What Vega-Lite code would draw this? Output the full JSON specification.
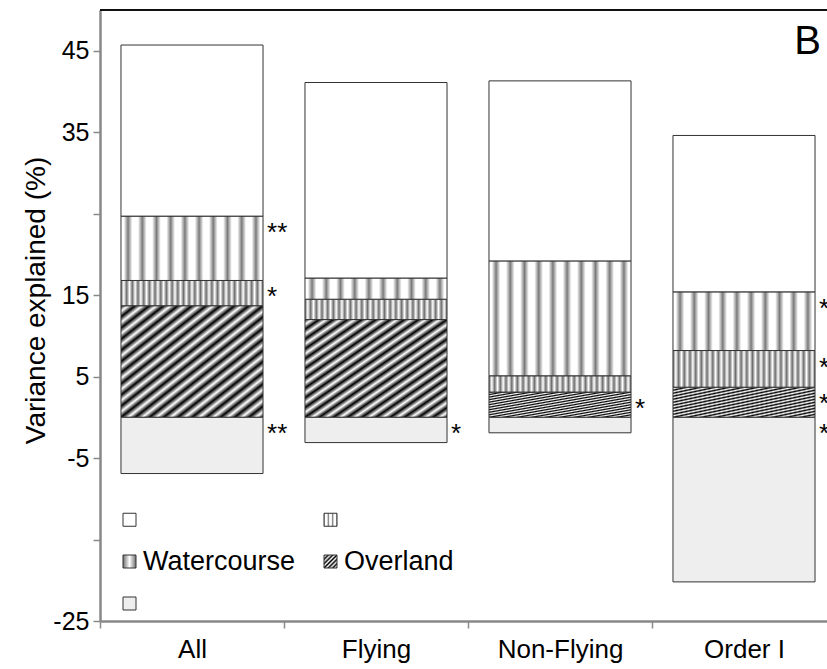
{
  "$schema": "https://vega.github.io/schema/vega-lite/v6.json",
  "width": 727,
  "height": 611,
  "autosize": {"type": "none"},
  "padding": {"left": 100, "top": 10, "right": 0, "bottom": 48},
  "background": "white",
  "config": {"font": "Liberation Sans", "view": {"stroke": null}},
  "title": {"text": "B", "anchor": "end", "frame": "group", "orient": "top", "offset": 0, "baseline": "alphabetic", "fontSize": 40, "fontWeight": "normal", "color": "black", "dx": -6, "dy": 85},
  "data": {
    "values": [
      {"group": "All", "component": "Overland", "value": 13.7, "sig": ""},
      {"group": "All", "component": "Watercourse", "value": 3.1, "sig": "*"},
      {"group": "All", "component": "Dashed", "value": 7.9, "sig": "**"},
      {"group": "All", "component": "Blank", "value": 21.0, "sig": ""},
      {"group": "All", "component": "Dotted", "value": -6.9, "sig": "**"},
      {"group": "Flying", "component": "Overland", "value": 12.0, "sig": ""},
      {"group": "Flying", "component": "Watercourse", "value": 2.5, "sig": ""},
      {"group": "Flying", "component": "Dashed", "value": 2.6, "sig": ""},
      {"group": "Flying", "component": "Blank", "value": 24.0, "sig": ""},
      {"group": "Flying", "component": "Dotted", "value": -3.1, "sig": "*"},
      {"group": "Non-Flying", "component": "Overland", "value": 3.1, "sig": "*"},
      {"group": "Non-Flying", "component": "Watercourse", "value": 2.0, "sig": ""},
      {"group": "Non-Flying", "component": "Dashed", "value": 14.1, "sig": ""},
      {"group": "Non-Flying", "component": "Blank", "value": 22.1, "sig": ""},
      {"group": "Non-Flying", "component": "Dotted", "value": -1.9, "sig": ""},
      {"group": "Order I", "component": "Overland", "value": 3.7, "sig": "*"},
      {"group": "Order I", "component": "Watercourse", "value": 4.5, "sig": "*"},
      {"group": "Order I", "component": "Dashed", "value": 7.2, "sig": "*"},
      {"group": "Order I", "component": "Blank", "value": 19.2, "sig": ""},
      {"group": "Order I", "component": "Dotted", "value": -20.2, "sig": "*"}
    ]
  },
  "transform": [
    {"stack": "value", "groupby": ["group"], "as": ["y0", "y1"]}
  ],
  "layer": [
    {
      "mark": {"type": "bar", "width": {"band": 0.772}, "stroke": "#333333", "strokeWidth": 1},
      "encoding": {
        "x": {
          "field": "group", "type": "nominal", "sort": ["All", "Flying", "Non-Flying", "Order I"],
          "scale": {"range": [0, 736], "paddingInner": 0, "paddingOuter": 0},
          "axis": {"title": null, "labelAngle": 0, "labelFontSize": 26, "labelColor": "black", "labelPadding": 8, "tickSize": 7, "tickColor": "#888888", "tickWidth": 1.5, "domainColor": "#888888", "domainWidth": 2.5, "tickBand": "extent", "grid": false}
        },
        "y": {
          "field": "y1", "type": "quantitative",
          "scale": {"domain": [-25, 50], "nice": false, "zero": false},
          "axis": {"title": "Variance explained (%)", "titleFontSize": 28, "titleFontWeight": "normal", "titleColor": "black", "titleX": -50, "titleY": 290, "titleBaseline": "bottom", "values": [45, 35, 25, 15, 5, -5, -15, -25], "labelExpr": "datum.value == 25 || datum.value == -15 ? '' : replace(datum.label, '\u2212', '-')", "labelFontSize": 25, "labelColor": "black", "labelPadding": 4, "tickSize": 7, "tickColor": "#888888", "tickWidth": 1.5, "domainColor": "#888888", "domainWidth": 2.5, "grid": false}
        },
        "y2": {"field": "y0"},
        "color": {
          "field": "component", "type": "nominal",
          "scale": {
            "domain": ["Blank", "Dashed", "Watercourse", "Overland", "Dotted"],
            "range": [
              "#ffffff",
              {"expr": "{gradient:'linear',x1:0,y1:0,x2:1,y2:0,stops:[{offset:0.02,color:'#fff'},{offset:0.05,color:'#7a7a7a'},{offset:0.08,color:'#fff'},{offset:0.12,color:'#fff'},{offset:0.15,color:'#7a7a7a'},{offset:0.18,color:'#fff'},{offset:0.22,color:'#fff'},{offset:0.25,color:'#7a7a7a'},{offset:0.28,color:'#fff'},{offset:0.32,color:'#fff'},{offset:0.35,color:'#7a7a7a'},{offset:0.38,color:'#fff'},{offset:0.42,color:'#fff'},{offset:0.45,color:'#7a7a7a'},{offset:0.48,color:'#fff'},{offset:0.52,color:'#fff'},{offset:0.55,color:'#7a7a7a'},{offset:0.58,color:'#fff'},{offset:0.62,color:'#fff'},{offset:0.65,color:'#7a7a7a'},{offset:0.68,color:'#fff'},{offset:0.72,color:'#fff'},{offset:0.75,color:'#7a7a7a'},{offset:0.78,color:'#fff'},{offset:0.82,color:'#fff'},{offset:0.85,color:'#7a7a7a'},{offset:0.88,color:'#fff'},{offset:0.92,color:'#fff'},{offset:0.95,color:'#7a7a7a'},{offset:0.98,color:'#fff'}]}"},
              {"expr": "{gradient:'linear',x1:0,y1:0,x2:1,y2:0,stops:[{offset:0,color:'#6e6e6e'},{offset:0.02,color:'#fff'},{offset:0.04,color:'#6e6e6e'},{offset:0.06,color:'#fff'},{offset:0.08,color:'#6e6e6e'},{offset:0.1,color:'#fff'},{offset:0.12,color:'#6e6e6e'},{offset:0.14,color:'#fff'},{offset:0.16,color:'#6e6e6e'},{offset:0.18,color:'#fff'},{offset:0.2,color:'#6e6e6e'},{offset:0.22,color:'#fff'},{offset:0.24,color:'#6e6e6e'},{offset:0.26,color:'#fff'},{offset:0.28,color:'#6e6e6e'},{offset:0.3,color:'#fff'},{offset:0.32,color:'#6e6e6e'},{offset:0.34,color:'#fff'},{offset:0.36,color:'#6e6e6e'},{offset:0.38,color:'#fff'},{offset:0.4,color:'#6e6e6e'},{offset:0.42,color:'#fff'},{offset:0.44,color:'#6e6e6e'},{offset:0.46,color:'#fff'},{offset:0.48,color:'#6e6e6e'},{offset:0.5,color:'#fff'},{offset:0.52,color:'#6e6e6e'},{offset:0.54,color:'#fff'},{offset:0.56,color:'#6e6e6e'},{offset:0.58,color:'#fff'},{offset:0.6,color:'#6e6e6e'},{offset:0.62,color:'#fff'},{offset:0.64,color:'#6e6e6e'},{offset:0.66,color:'#fff'},{offset:0.68,color:'#6e6e6e'},{offset:0.7,color:'#fff'},{offset:0.72,color:'#6e6e6e'},{offset:0.74,color:'#fff'},{offset:0.76,color:'#6e6e6e'},{offset:0.78,color:'#fff'},{offset:0.8,color:'#6e6e6e'},{offset:0.82,color:'#fff'},{offset:0.84,color:'#6e6e6e'},{offset:0.86,color:'#fff'},{offset:0.88,color:'#6e6e6e'},{offset:0.9,color:'#fff'},{offset:0.92,color:'#6e6e6e'},{offset:0.94,color:'#fff'},{offset:0.96,color:'#6e6e6e'},{offset:0.98,color:'#fff'},{offset:1,color:'#6e6e6e'}]}"},
              {"expr": "{gradient:'linear',x1:0,y1:0,x2:1,y2:1,stops:[{offset:0,color:'#000'},{offset:0.025,color:'#fff'},{offset:0.05,color:'#000'},{offset:0.075,color:'#fff'},{offset:0.1,color:'#000'},{offset:0.125,color:'#fff'},{offset:0.15,color:'#000'},{offset:0.175,color:'#fff'},{offset:0.2,color:'#000'},{offset:0.225,color:'#fff'},{offset:0.25,color:'#000'},{offset:0.275,color:'#fff'},{offset:0.3,color:'#000'},{offset:0.325,color:'#fff'},{offset:0.35,color:'#000'},{offset:0.375,color:'#fff'},{offset:0.4,color:'#000'},{offset:0.425,color:'#fff'},{offset:0.45,color:'#000'},{offset:0.475,color:'#fff'},{offset:0.5,color:'#000'},{offset:0.525,color:'#fff'},{offset:0.55,color:'#000'},{offset:0.575,color:'#fff'},{offset:0.6,color:'#000'},{offset:0.625,color:'#fff'},{offset:0.65,color:'#000'},{offset:0.675,color:'#fff'},{offset:0.7,color:'#000'},{offset:0.725,color:'#fff'},{offset:0.75,color:'#000'},{offset:0.775,color:'#fff'},{offset:0.8,color:'#000'},{offset:0.825,color:'#fff'},{offset:0.85,color:'#000'},{offset:0.875,color:'#fff'},{offset:0.9,color:'#000'},{offset:0.925,color:'#fff'},{offset:0.95,color:'#000'},{offset:0.975,color:'#fff'},{offset:1,color:'#000'}]}"},
              "#eeeeee"
            ]
          },
          "legend": {"orient": "none", "legendX": 16, "legendY": 496, "columns": 2, "direction": "horizontal", "title": null, "symbolType": "square", "symbolSize": 169, "symbolStrokeColor": "#333333", "symbolStrokeWidth": 1, "labelFontSize": 27, "labelColor": "black", "labelOffset": 0, "rowPadding": 14, "columnPadding": 21, "padding": 0, "labelExpr": "datum.label == 'Watercourse' || datum.label == 'Overland' ? datum.label : ''"}
        }
      }
    },
    {
      "transform": [{"filter": "datum.sig != '' && datum.value > 0"}],
      "mark": {"type": "text", "align": "left", "baseline": "alphabetic", "dx": 4, "dy": 25, "fontSize": 26, "color": "black"},
      "encoding": {
        "x": {"field": "group", "type": "nominal", "bandPosition": 0.886},
        "y": {"field": "y1", "type": "quantitative"},
        "text": {"field": "sig"}
      }
    },
    {
      "transform": [{"filter": "datum.sig != '' && datum.value < 0"}],
      "mark": {"type": "text", "align": "left", "baseline": "alphabetic", "dx": 4, "dy": 25, "fontSize": 26, "color": "black"},
      "encoding": {
        "x": {"field": "group", "type": "nominal", "bandPosition": 0.886},
        "y": {"field": "y0", "type": "quantitative"},
        "text": {"field": "sig"}
      }
    },
    {
      "mark": {"type": "rule", "color": "#111111", "strokeWidth": 1.5},
      "encoding": {"y": {"datum": 50}}
    }
  ]
}
